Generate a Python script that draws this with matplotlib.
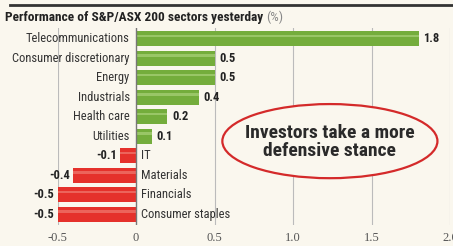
import matplotlib.pyplot as plt
from matplotlib.patches import Ellipse
from matplotlib.lines import Line2D
from matplotlib import font_manager

names = set(f.name for f in font_manager.fontManager.ttflist)
cond = 'DejaVu Sans'
for cand in ['Roboto Condensed', 'Archivo Narrow', 'PT Sans Narrow', 'Liberation Sans Narrow']:
    if cand in names:
        cond = cand
        break
plt.rcParams['font.family'] = [cond, 'DejaVu Sans']

sectors = ["Telecommunications", "Consumer discretionary", "Energy", "Industrials",
           "Health care", "Utilities", "IT", "Materials", "Financials", "Consumer staples"]
values = [1.8, 0.5, 0.5, 0.4, 0.2, 0.1, -0.1, -0.4, -0.5, -0.5]
ticks = [-0.5, 0, 0.5, 1.0, 1.5, 2.0]
tick_labels = ["-0.5", "0", "0.5", "1.0", "1.5", "2.0"]

green = '#74ad3c'
green_hi = '#a9d27a'
red = '#e5312b'
red_hi = '#f07a70'
bg = '#faf7ee'

fig = plt.figure(figsize=(4.53, 2.46), dpi=100, facecolor=bg)
ax = fig.add_axes([57.5 / 453, 1 - 225 / 246, 392.5 / 453, 197 / 246])
ax.set_facecolor(bg)

y = list(range(len(sectors)))
colors = [green if v >= 0 else red for v in values]
hi = [green_hi if v >= 0 else red_hi for v in values]
ax.barh(y, values, height=0.76, color=colors, zorder=3)
ax.barh([i - 0.14 for i in y], values, height=0.14, color=hi, alpha=0.7, zorder=4)

for i, (name, v) in enumerate(zip(sectors, values)):
    if v >= 0:
        ax.text(-0.04, i, name, ha='right', va='center', fontsize=9, color='#333333')
        ax.text(v + 0.03, i, f"{v:.1f}", ha='left', va='center', fontsize=9,
                fontweight='bold', color='#222222')
    else:
        ax.text(0.03, i, name, ha='left', va='center', fontsize=9, color='#333333')
        ax.text(v - 0.02, i, f"{v:.1f}", ha='right', va='center', fontsize=9,
                fontweight='bold', color='#222222')

ax.set_xlim(-0.5, 2.0)
ax.set_ylim(9.55, -0.55)
ax.set_xticks(ticks)
ax.set_xticklabels(tick_labels, fontsize=9, color='#555555', family=['Liberation Serif', 'DejaVu Serif'])
ax.set_yticks([])
ax.tick_params(axis='x', length=0, pad=5)
for t in ticks:
    if t != 0:
        ax.axvline(t, color='#bbbbbb', lw=0.8, zorder=1)
ax.axvline(0, color='#777777', lw=1, zorder=5)
for s in ax.spines.values():
    s.set_visible(False)

title = fig.text(5 / 453, 1 - 17 / 246, "Performance of S&P/ASX 200 sectors yesterday", fontsize=9.6,
                 fontweight='bold', color='#222222', va='center', ha='left')
ax.annotate("(%)", xy=(1, 0.5), xycoords=title, xytext=(2, 0), textcoords='offset points',
            fontsize=9.6, color='#888888', va='center', ha='left', annotation_clip=False)
fig.add_artist(Line2D([10 / 453, 1], [1 - 5 / 246, 1 - 5 / 246], color='#333333', lw=2))

ell = Ellipse((1.235, 5.25), 1.37, 3.8, fill=True, facecolor=bg, edgecolor='#d42a2a', lw=1.6, zorder=6)
ax.add_patch(ell)
ax.text(1.235, 5.3, "Investors take a more\ndefensive stance", ha='center', va='center',
        fontsize=14, fontweight=600, color='#2a2a2a', linespacing=1.0, zorder=7)

fig.savefig("out.png", dpi=100, facecolor=bg)
